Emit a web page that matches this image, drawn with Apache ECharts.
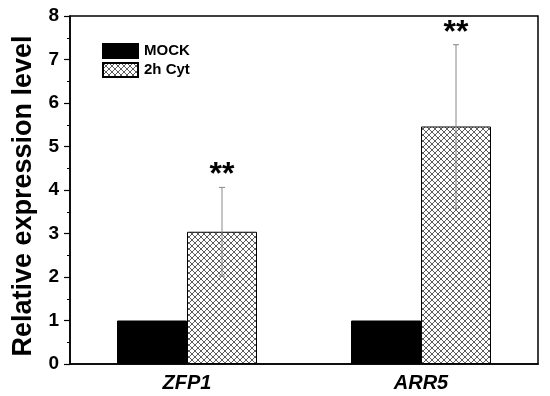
<!DOCTYPE html>
<html><head><meta charset="utf-8">
<script src="https://cdn.jsdelivr.net/npm/echarts@6/dist/echarts.min.js"></script>
<style>html,body{margin:0;padding:0;background:#fff}#c{width:550px;height:396px}</style>
</head><body><div id="c"></div>
<script>
const categories = ['ZFP1', 'ARR5'];
const seriesNames = ['MOCK', '2h Cyt'];
const mockValues = [1, 1];
const cytValues = [3.04, 5.46];
const cytErrors = [1.02, 1.88];
const sigMarks = ['**', '**'];
const yTicks = [0, 1, 2, 3, 4, 5, 6, 7, 8];

function hatch() {
  const c = document.createElement('canvas');
  c.width = 6; c.height = 6;
  const g = c.getContext('2d');
  g.fillStyle = '#fff'; g.fillRect(0, 0, 6, 6);
  g.strokeStyle = '#333'; g.lineWidth = 0.8;
  g.beginPath();
  g.moveTo(0, 0); g.lineTo(6, 6);
  g.moveTo(6, 0); g.lineTo(0, 6);
  g.stroke();
  return c;
}
const pattern = { image: hatch(), repeat: 'repeat' };
const font = 'Liberation Sans, Arial, sans-serif';

const chart = echarts.init(document.getElementById('c'), null, { renderer: 'canvas' });
chart.setOption({
  animation: false,
  backgroundColor: '#fff',
  grid: { left: 70, right: 12, top: 16, bottom: 32, show: true, borderColor: '#000', borderWidth: 1.5, backgroundColor: 'transparent' },
  legend: {
    left: 102, top: 43, padding: 0, orient: 'vertical', itemWidth: 35, itemHeight: 14, itemGap: 3,
    icon: 'rect',
    textStyle: { fontFamily: font, fontWeight: 'bold', fontSize: 15, color: '#000', padding: [0, 0, 0, 1] },
    data: seriesNames
  },
  xAxis: {
    type: 'category', data: categories,
    axisLine: { lineStyle: { color: '#000', width: 1.5 } },
    axisTick: { show: false },
    axisLabel: { fontFamily: font, fontWeight: 'bold', fontStyle: 'italic', fontSize: 20, color: '#000', margin: 9 }
  },
  yAxis: {
    type: 'value', min: yTicks[0], max: yTicks[yTicks.length - 1], interval: 1,
    name: 'Relative expression level', nameLocation: 'middle', nameGap: 33,
    nameTextStyle: { fontFamily: font, fontWeight: 'bold', fontSize: 27, color: '#000', padding: [0, 12, 0, 0] },
    axisLine: { show: true, lineStyle: { color: '#000', width: 1.5 } },
    axisTick: { show: true, length: 6, lineStyle: { color: '#000', width: 1.2 } },
    minorTick: { show: true, splitNumber: 2, length: 3, lineStyle: { color: '#000', width: 1 } },
    splitLine: { show: false },
    axisLabel: { fontFamily: font, fontWeight: 'bold', fontSize: 19, color: '#000', margin: 11 }
  },
  series: [
    { name: seriesNames[0], type: 'bar', data: mockValues, barWidth: 70, barGap: '0%',
      itemStyle: { color: '#000', borderColor: '#000', borderWidth: 1 } },
    { name: seriesNames[1], type: 'bar', data: cytValues, barWidth: 70,
      itemStyle: { color: pattern, borderColor: '#000', borderWidth: 1 } },
    { name: 'err', type: 'custom', data: cytValues.map((v, i) => [i, v, cytErrors[i]]),
      z: 5,
      renderItem: function (params, api) {
        const i = api.value(0), v = api.value(1), e = api.value(2);
        const catCenter = api.coord([i, 0])[0];
        const x = catCenter + 35;
        const top = api.coord([i, v + e])[1];
        const bot = api.coord([i, v - e])[1];
        const ls = { stroke: '#888', lineWidth: 1 };
        return { type: 'group', children: [
          { type: 'line', shape: { x1: x, y1: top, x2: x, y2: bot }, style: ls },
          { type: 'line', shape: { x1: x - 3, y1: top, x2: x + 3, y2: top }, style: ls },
          { type: 'line', shape: { x1: x - 3, y1: bot, x2: x + 3, y2: bot }, style: ls },
          { type: 'text', x: x, y: top + 4, style: { text: sigMarks[i], fill: '#000', font: 'bold 32px ' + font, textAlign: 'center', textVerticalAlign: 'bottom' } }
        ]};
      }
    }
  ]
});
</script></body></html>
